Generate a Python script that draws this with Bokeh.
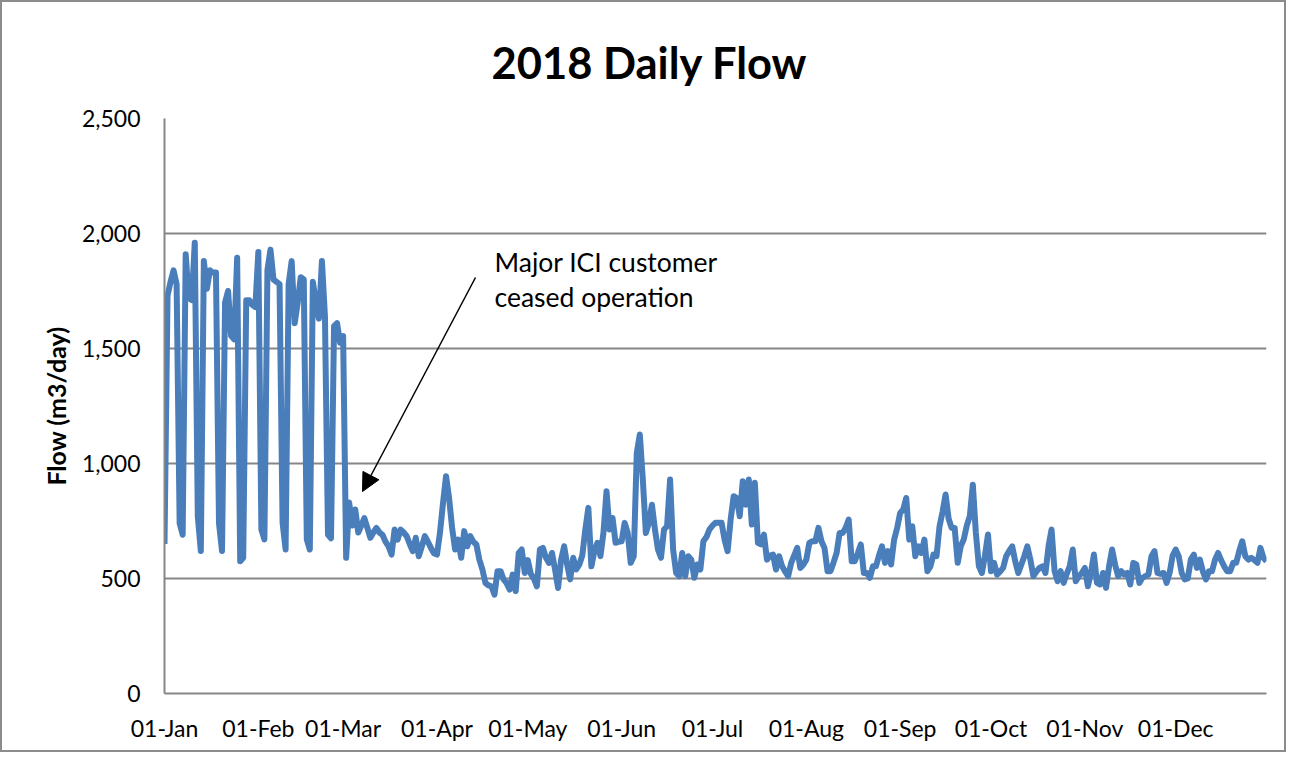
import pandas as pd
from bokeh.plotting import figure
from bokeh.models import (Range1d, FixedTicker, DatetimeTickFormatter, NumeralTickFormatter,
                          Label, Arrow, NormalHead, ColumnDataSource, Title)
from bokeh.embed import file_html
from bokeh.resources import INLINE

# ---- data (m3/day) ----
flow_jan = [650, 1730, 1790, 1840, 1780, 740, 690, 1910, 1720, 1710, 1960, 770, 620,
            1880, 1760, 1840, 1830, 1830, 740, 620, 1700, 1750, 1555, 1540, 1895, 575,
            590, 1710, 1710, 1690, 1680]
flow_feb = [1920, 713, 670, 1840, 1930, 1800, 1790, 1780, 743, 626, 1780, 1880, 1610,
            1700, 1810, 1800, 670, 626, 1790, 1700, 1630, 1880, 1640, 690, 675, 1597,
            1610, 1525]
flow_mar = [1554, 590, 830, 730, 800, 700, 730, 763, 720, 677, 700, 720, 700, 690, 660,
            640, 604, 713, 669, 713, 700, 684, 650, 619, 677, 597, 640, 684, 660, 633, 610]
flow_apr = [604, 700, 829, 945, 850, 720, 626, 669, 590, 706, 640, 684, 660, 648, 582,
            540, 481, 470, 466, 430, 532, 532, 496, 480, 452, 517, 445, 611, 626, 524]
flow_may = [580, 520, 500, 466, 626, 633, 590, 568, 611, 539, 459, 582, 640, 560, 496,
            590, 539, 560, 600, 713, 807, 553, 620, 655, 597, 700, 879, 713, 763, 655, 660]
flow_jun = [662, 742, 698, 568, 597, 1046, 1126, 930, 698, 742, 821, 713, 626, 590, 713,
            727, 930, 626, 524, 510, 611, 510, 597, 582, 503, 561, 539, 662, 680, 713]
flow_jul = [730, 742, 742, 742, 669, 619, 756, 858, 850, 771, 923, 821, 930, 735, 916,
            655, 648, 691, 582, 600, 604, 539, 597, 553, 530, 510, 568, 600, 633, 546, 560]
flow_aug = [582, 655, 662, 662, 720, 662, 633, 532, 532, 570, 611, 698, 698, 720, 756,
            575, 575, 610, 648, 524, 524, 503, 553, 553, 600, 640, 568, 619, 561, 669, 720]
flow_sep = [785, 800, 850, 669, 727, 597, 640, 611, 669, 532, 553, 604, 597, 727, 790,
            865, 760, 720, 720, 568, 640, 670, 730, 771, 908, 698, 553, 524, 600, 691]
flow_oct = [532, 568, 517, 530, 546, 597, 620, 640, 575, 524, 560, 597, 640, 582, 510,
            530, 546, 553, 524, 640, 713, 532, 488, 532, 481, 520, 553, 626, 488, 510, 524]
flow_nov = [546, 466, 524, 604, 481, 474, 524, 459, 553, 626, 560, 510, 532, 517, 524,
            474, 568, 561, 481, 503, 510, 517, 597, 619, 524, 520, 524, 481, 524, 600]
flow_dec = [626, 597, 524, 496, 500, 582, 604, 546, 582, 530, 496, 532, 532, 582, 611,
            580, 553, 532, 532, 568, 568, 620, 662, 597, 582, 590, 580, 568, 633, 590, 575]

flow = (flow_jan + flow_feb + flow_mar + flow_apr + flow_may + flow_jun +
        flow_jul + flow_aug + flow_sep + flow_oct + flow_nov + flow_dec)
dates = pd.date_range("2018-01-01", "2018-12-31", freq="D")

y_ticks = [0, 500, 1000, 1500, 2000, 2500]
month_starts = pd.date_range("2018-01-01", periods=12, freq="MS")

title_text = "2018 Daily Flow"
y_label = "Flow (m3/day)"
note_lines = ["Major ICI customer", "ceased operation"]

FONT = "Lato"
GRID = "#868686"

src = ColumnDataSource(dict(date=dates, flow=flow))

p = figure(width=1286, height=752, x_axis_type="datetime",
           output_backend="svg", toolbar_location=None,
           x_range=Range1d(dates[0].to_pydatetime(), dates[-1].to_pydatetime()),
           y_range=Range1d(0, 2500),
           min_border_left=162, min_border_right=22,
           min_border_top=116, min_border_bottom=61)
p.styles = {"border": "2px solid #8c8c8c"}
p.outline_line_color = None
p.background_fill_color = "white"
p.border_fill_color = "white"

p.add_layout(Title(text=title_text, text_font=FONT, text_font_style="bold",
                   text_font_size="43.5px", text_color="black", align="left",
                   offset=327, standoff=61, vertical_align="bottom"), "above")

p.line("date", "flow", source=src, line_color="#4A7EBB", line_width=6,
       line_join="round")

# axes
p.yaxis.ticker = FixedTicker(ticks=y_ticks)
p.yaxis.formatter = NumeralTickFormatter(format="0,0")
p.xaxis.ticker = FixedTicker(ticks=[t.value / 1e6 for t in month_starts])
p.xaxis.formatter = DatetimeTickFormatter(days="%d-%b", months="%d-%b", years="%d-%b",
                                          hours="%d-%b", minutes="%d-%b", seconds="%d-%b",
                                          context=None)
for ax in (p.xaxis, p.yaxis):
    ax.major_tick_in = 0
    ax.major_tick_out = 0
    ax.minor_tick_in = 0
    ax.minor_tick_out = 0
    ax.axis_line_color = GRID
    ax.axis_line_width = 2
    ax.major_label_text_font = FONT
    ax.major_label_text_font_size = "23px"
    ax.major_label_text_color = "black"

p.yaxis.major_label_standoff = 24
p.xaxis.major_label_standoff = 20
p.yaxis.axis_label = y_label
p.yaxis.axis_label_text_font = FONT
p.yaxis.axis_label_text_font_style = "bold"
p.yaxis.axis_label_text_font_size = "25px"
p.yaxis.axis_label_text_color = "black"
p.yaxis.axis_label_standoff = 8

p.xgrid.grid_line_color = None
p.ygrid.grid_line_color = GRID
p.ygrid.grid_line_width = 2

# annotation (screen px relative to the plot frame)
p.add_layout(Label(x=330, y=432, x_units="screen", y_units="screen", text=note_lines[0],
                   text_font=FONT, text_font_size="26.5px", text_align="left",
                   text_baseline="middle", text_color="black"))
p.add_layout(Label(x=330, y=397, x_units="screen", y_units="screen", text=note_lines[1],
                   text_font=FONT, text_font_size="26.5px", text_align="left",
                   text_baseline="middle", text_color="black"))
p.add_layout(Arrow(x_start=311, y_start=416, x_end=198, y_end=202,
                   start_units="screen", end_units="screen",
                   line_color="black", line_width=1.5,
                   end=NormalHead(size=18, fill_color="black", line_color="black")))

open("out.html", "w").write(file_html(p, INLINE))
